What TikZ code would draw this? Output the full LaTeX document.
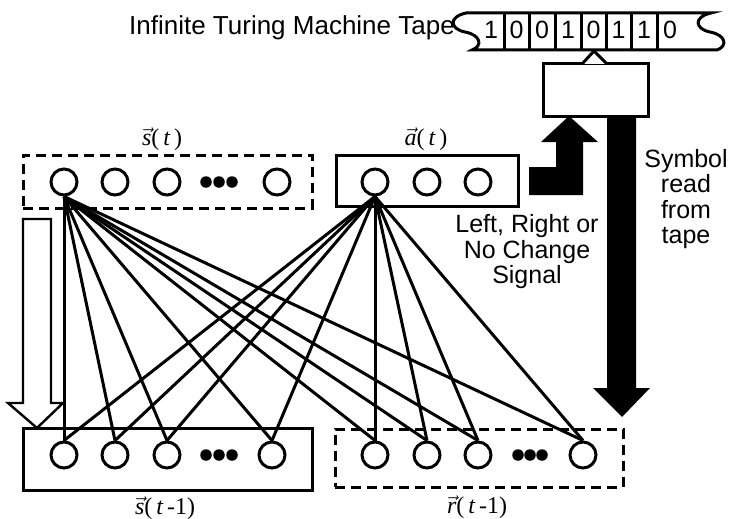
\documentclass[tikz,border=0pt]{standalone}
\usepackage{fontspec}
\setmainfont{Liberation Sans}
\newfontfamily\tms{Liberation Serif}
\begin{document}
\begin{tikzpicture}[x=1pt,y=-1pt,
  ln/.style={line width=3pt},
  unit/.style={circle,draw,line width=3pt,minimum size=26pt,inner sep=0pt},
  dotn/.style={circle,fill,minimum size=11.5pt,inner sep=0pt},
  layerbox/.style={draw,line width=3pt,inner sep=0pt},
  dashbox/.style={layerbox,dash pattern=on 10pt off 6pt},
  txt/.style={font=\fontsize{25}{25.5}\selectfont,inner sep=0pt},
  lab/.style={font=\tms\fontsize{24}{26}\selectfont,inner sep=0pt},
  conn/.style={line width=3pt}]
\useasboundingbox (0,0) rectangle (731,519);

% tape
\draw[ln,fill=white] (466,13) -- (711,13)
  .. controls (693,17) and (695,29) .. (710,32)
  .. controls (726,35) and (728,46) .. (717,50)
  -- (472,50)
  .. controls (483,46) and (481,35) .. (465,32)
  .. controls (450,29) and (448,17) .. cycle;
\foreach \x in {504,529,555,581,606,631,657} \draw[ln] (\x,13) -- (\x,50);
\foreach \x/\d [count=\i] in {491/1,516.5/0,542/0,568/1,593.5/0,618.5/1,644/1,670/0}
  \node[txt,anchor=base] (cell\i) at (\x,38.5) {\d};
\node[txt,font=\fontsize{26}{27}\selectfont,anchor=base east] (tapelabel) at (455,35) {Infinite Turing Machine Tape};

% head
\node[layerbox,minimum width=105pt,minimum height=52pt] (head) at (595.5,90) {};
\draw[ln,fill=white,line join=miter] (582,64) -- (594,51) -- (607,64);

% L-shaped black arrow (move signal)
\fill (529,167) -- (556,167) -- (556,142) -- (541,142) -- (569,116) -- (598,142)
  -- (583,142) -- (583,195) -- (529,195) -- cycle;
% black down arrow (symbol read)
\fill (607,116) -- (636,116) -- (636,388) -- (650,388) -- (622,417) -- (593,388)
  -- (607,388) -- cycle;

\node[txt,align=center] (sym) at (686,199) {Symbol\\read\\from\\tape};
\node[txt,align=center] (sig) at (527,252) {Left, Right or\\No Change\\Signal};

% hollow arrow on the left
\draw[line width=2.4pt,fill=white] (23,219) -- (51,219) -- (51,403) -- (63,403)
  -- (37,428) -- (8,403) -- (23,403) -- cycle;

% layer boxes
\node[dashbox,minimum width=289pt,minimum height=53pt] (sbox) at (167.5,181.5) {};
\node[layerbox,minimum width=182pt,minimum height=51pt] (abox) at (427,180.5) {};
\node[layerbox,minimum width=289pt,minimum height=62pt] (bbox) at (167.5,459) {};
\node[dashbox,minimum width=288pt,minimum height=58pt] (rbox) at (479,458) {};

% units
\node[unit] (s1) at (64,182) {};
\node[unit] (s2) at (115,182) {};
\node[unit] (s3) at (167,182) {};
\node[unit] (s4) at (277,182) {};
\foreach \x [count=\i] in {206,219,232} \node[dotn] (sd\i) at (\x,182) {};
\node[unit] (a1) at (375,182) {};
\node[unit] (a2) at (427,182) {};
\node[unit] (a3) at (478,182) {};

\node[unit] (b1) at (64,455) {};
\node[unit] (b2) at (115,455) {};
\node[unit] (b3) at (167,455) {};
\node[unit] (b4) at (272,455) {};
\foreach \x [count=\i] in {206,219,232} \node[dotn] (bd\i) at (\x,455) {};
\node[unit] (r1) at (375,455) {};
\node[unit] (r2) at (427,455) {};
\node[unit] (r3) at (478,455) {};
\node[unit] (r4) at (583,455) {};
\foreach \x [count=\i] in {518,530,542} \node[dotn] (rd\i) at (\x,455) {};

% connections
\foreach \d in {b1,b2,b3,b4,r1,r2,r3,r4} {
  \draw[conn] (s1.south) -- (\d.north);
  \draw[conn] (a1.south) -- (\d.north);
}

% labels
\node[lab] (lst) at (162,139) {$\vec{\mbox{\tms\itshape s}}$(\,{\itshape t}\,)};
\node[lab] (lat) at (426,139) {$\vec{\mbox{\tms\itshape a}}$(\,{\itshape t}\,)};
\node[lab] (lsb) at (165,508) {$\vec{\mbox{\tms\itshape s}}$(\,{\itshape t}\,-1)};
\node[lab] (lrb) at (477,507) {$\vec{\mbox{\tms\itshape r}}$(\,{\itshape t}\,-1)};
\end{tikzpicture}
\end{document}
